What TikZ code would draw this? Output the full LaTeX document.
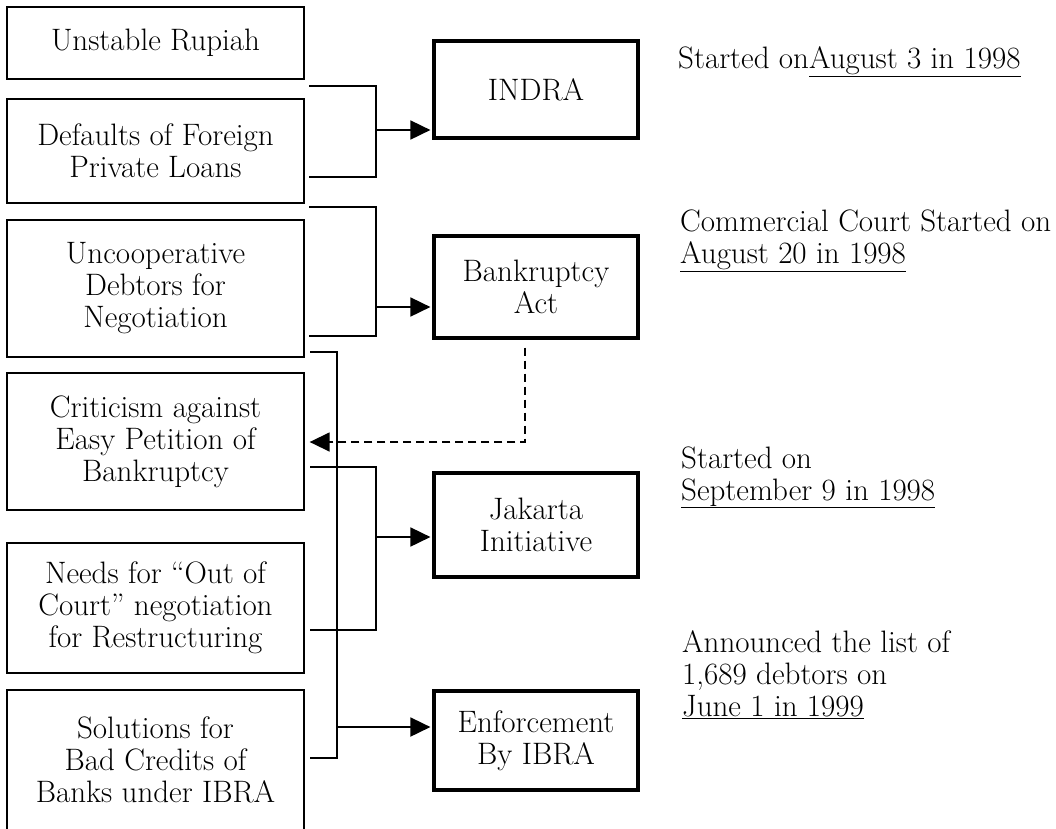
\documentclass[tikz,border=0pt]{standalone}
\usepackage{tikz}
\usetikzlibrary{positioning,arrows.meta}
\tikzstyle{cause} = [rectangle,draw,line width=1.3pt,align=center,minimum width=297pt,inner sep=0pt]
\tikzstyle{measure} = [rectangle,draw,line width=3.2pt,align=center,minimum width=204pt,inner sep=0pt]
\tikzstyle{note} = [anchor=base west,align=left,inner sep=0pt]
\tikzstyle{bracket} = [draw,line width=1.8pt]
\tikzstyle{line} = [draw,line width=1.8pt,-{Triangle[length=20pt,width=19pt]},shorten >=2pt]

\begin{document}
\begin{tikzpicture}[x=1pt,y=-1pt,font=\fontsize{31}{32}\selectfont]
            \useasboundingbox (0,0) rectangle (1056,828);
            % causes
            \node[cause,minimum height=72pt] (rupiah) at (155.5,43) {Unstable Rupiah};
            \node[cause,minimum height=104pt] (loans) at (155.5,151) {Defaults of Foreign\\Private Loans};
            \node[cause,minimum height=137pt] (debtors) at (155.5,288.5) {Uncooperative\\Debtors for\\Negotiation};
            \node[cause,minimum height=137pt] (criticism) at (155.5,441.5) {Criticism against\\Easy Petition of\\Bankruptcy};
            \node[cause,minimum height=130pt] (outcourt) at (155.5,608) {Needs for “Out of\\Court” negotiation\\for Restructuring};
            \node[cause,minimum height=140pt] (badcredit) at (155.5,760) {Solutions for\\Bad Credits of\\Banks under IBRA};
            % measures
            \node[measure,minimum height=97pt] (indra) at (536,89.5) {INDRA};
            \node[measure,minimum height=102pt] (bankact) at (536,287) {Bankruptcy\\Act};
            \node[measure,minimum height=104pt] (jakarta) at (536,525) {Jakarta\\Initiative};
            \node[measure,minimum height=99pt] (ibra) at (536,740.5) {Enforcement\\By IBRA};
            % dates
            \node[note] (indra-date) at (678,68) {Started on\underline{August 3 in 1998}};
            \node[note] (bankact-date) at (680,263) {Commercial Court Started on\\\underline{August 20 in 1998}};
            \node[note] (jakarta-date) at (681,500) {Started on\\\underline{September 9 in 1998}};
            \node[note] (ibra-date) at (682,716) {Announced the list of\\1,689 debtors on\\\underline{June 1 in 1999}};
            % brackets
            \coordinate (b1-top) at (309,86);
            \coordinate (b1-mid) at (376,130);
            \coordinate (b1-bot) at (309,177);
            \path[bracket] (b1-top) -| (b1-mid) |- (b1-bot);
            \path[line] (b1-mid) -- (b1-mid -| indra.west);
            \coordinate (b2-top) at (309,207);
            \coordinate (b2-mid) at (376,307);
            \coordinate (b2-bot) at (309,336);
            \path[bracket] (b2-top) -| (b2-mid) |- (b2-bot);
            \path[line] (b2-mid) -- (b2-mid -| bankact.west);
            \coordinate (b3-top) at (310,352);
            \coordinate (b3-mid) at (337,727);
            \coordinate (b3-bot) at (310,758);
            \path[bracket] (b3-top) -| (b3-mid) |- (b3-bot);
            \path[line] (b3-mid) -- (b3-mid -| ibra.west);
            \coordinate (b4-top) at (310,467);
            \coordinate (b4-mid) at (376,537);
            \coordinate (b4-bot) at (310,630);
            \path[bracket] (b4-top) -| (b4-mid) |- (b4-bot);
            \path[line] (b4-mid) -- (b4-mid -| jakarta.west);
            % feedback
            \coordinate (turn) at (525,442);
            \path[line,line width=1.5pt,dash pattern=on 8pt off 5pt,shorten <=8pt,shorten >=5pt] (bankact.south -| turn) |- (criticism.east |- turn);
        \end{tikzpicture}
\end{document}
